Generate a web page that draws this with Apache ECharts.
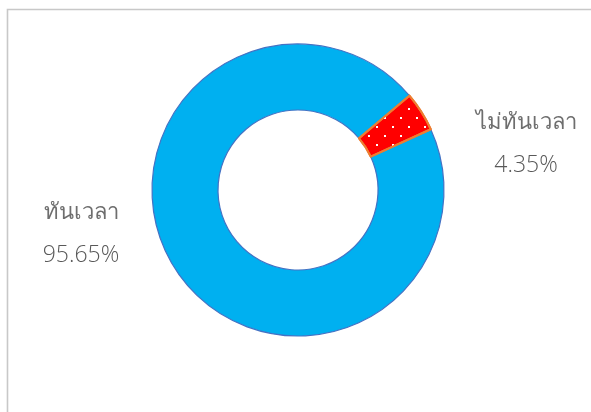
<!DOCTYPE html>
<html>
<head>
<meta charset="utf-8">
<style>
html,body{margin:0;padding:0;background:#fff;}
#chart{width:591px;height:412px;}
</style>
<script src="https://cdn.jsdelivr.net/npm/echarts@6/dist/echarts.min.js"></script>
</head>
<body>
<div id="chart"></div>
<script>
var categories = ['ทันเวลา', 'ไม่ทันเวลา'];
var values = [95.65, 4.35];
var fillColors = ['#00B0F0', '#FF0000'];
var borderColors = ['#4472C4', '#ED7D31'];

var chart = echarts.init(document.getElementById('chart'), null, {renderer: 'canvas'});

var labelPos = [
  {x: 81, y: 234},
  {x: 526, y: 144}
];

var data = categories.map(function (c, i) {
  var item = {
    name: c,
    value: values[i],
    itemStyle: {
      color: fillColors[i],
      borderColor: borderColors[i],
      borderWidth: i === 1 ? 2 : 1.2
    }
  };
  if (i === 1) {
    item.itemStyle.decal = {
      symbol: 'rect',
      symbolSize: 1,
      color: '#FFFFFF',
      dashArrayX: [[2, 14], [0, 8, 2, 6]],
      dashArrayY: [2, 6.4],
      rotation: 0
    };
  }
  return item;
});

chart.setOption({
  animation: false,
  backgroundColor: '#FFFFFF',
  graphic: [{
    type: 'rect',
    shape: {x: 7.5, y: 9.5, width: 700, height: 500},
    style: {fill: 'none', stroke: '#C8C8C8', lineWidth: 1.6},
    silent: true,
    z: 0
  }],
  series: [{
    type: 'pie',
    center: [298, 190],
    radius: [80, 146],
    startAngle: 24.6,
    clockwise: true,
    avoidLabelOverlap: false,
    data: data,
    label: {
      show: true,
      position: 'outside',
      formatter: function (p) { return '{t|' + p.name + '}\n{n|' + p.value.toFixed(2) + '%}'; },
      color: '#595959',
      align: 'center',
      rich: {
        t: {
          fontFamily: '"Noto Sans", sans-serif',
          fontWeight: 'normal',
          fontSize: 22,
          lineHeight: 42,
          color: '#6E6E6E'
        },
        n: {
          fontFamily: '"Open Sans", "Noto Sans", sans-serif',
          fontWeight: 300,
          fontSize: 23,
          lineHeight: 42,
          color: '#595959'
        }
      }
    },
    labelLine: {show: false},
    labelLayout: function (params) {
      var p = labelPos[params.dataIndex];
      return {x: p.x, y: p.y, align: 'center', verticalAlign: 'middle'};
    },
    emphasis: {disabled: true}
  }]
});
</script>
</body>
</html>
